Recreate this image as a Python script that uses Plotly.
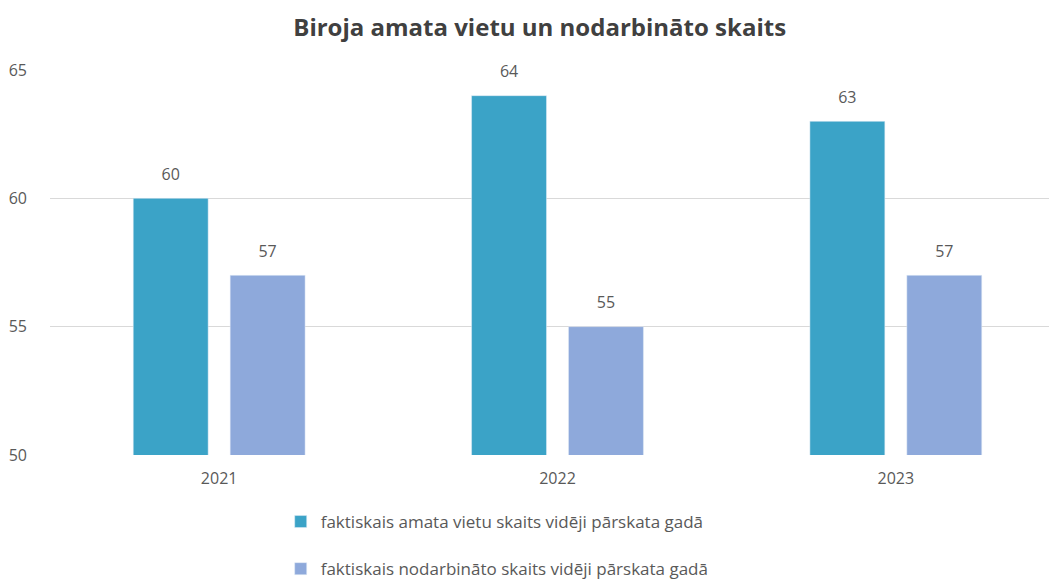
import plotly.graph_objects as go

years = ["2021", "2022", "2023"]
positions = [60, 64, 63]
employees = [57, 55, 57]
series_names = [
    "faktiskais amata vietu skaits vidēji pārskata gadā",
    "faktiskais nodarbināto skaits vidēji pārskata gadā",
]
colors = ["#3BA3C7", "#8EA9DB"]
txt = "#595959"
FONT = "Open Sans"

fig = go.Figure()
for i, (vals, name) in enumerate(zip([positions, employees], series_names)):
    fig.add_trace(go.Bar(
        x=years, y=vals, name=name, marker_color=colors[i],
        offsetgroup=str(i), legendgroup=f"g{i}",
    ))
for i, vals in enumerate([positions, employees]):
    fig.add_trace(go.Scatter(
        x=years, y=vals, mode="markers+text", text=[str(v) for v in vals],
        textposition="top center", offsetgroup=str(i),
        marker=dict(size=22, color="rgba(0,0,0,0)"),
        textfont=dict(size=16, color=txt, family=FONT),
        cliponaxis=False, showlegend=False, hoverinfo="skip",
    ))

fig.update_layout(
    width=1057, height=583,
    margin=dict(l=42, r=0, t=62, b=136, autoexpand=False),
    paper_bgcolor="white", plot_bgcolor="white",
    barmode="group", bargap=0.427, bargroupgap=0.227,
    scattermode="group", scattergap=0.427,
    font=dict(family=FONT, color=txt, size=16),
    title=dict(text="<b>Biroja amata vietu un nodarbināto skaits</b>",
               x=0.503, xref="container", xanchor="center",
               y=1 - 20 / 583, yref="container", yanchor="middle",
               font=dict(size=24, color="#404040", family=FONT)),
    legend=dict(orientation="v", x=0.258, xref="container", xanchor="left",
                y=1 - 496 / 583, yref="container", yanchor="top",
                traceorder="grouped", tracegroupgap=22,
                font=dict(size=17, color=txt, family=FONT)),
    xaxis=dict(range=[-0.5, 2.5], showgrid=False, showline=False,
               ticks="", ticklabelstandoff=12, tickfont=dict(size=16, color=txt)),
    yaxis=dict(range=[50, 65], dtick=5, showgrid=True, gridcolor="#D9D9D9",
               gridwidth=1, zeroline=False, showline=False, ticks="",
               ticklabelstandoff=22, tickfont=dict(size=16, color=txt)),
    showlegend=True,
)
fig.write_html("out.html")
